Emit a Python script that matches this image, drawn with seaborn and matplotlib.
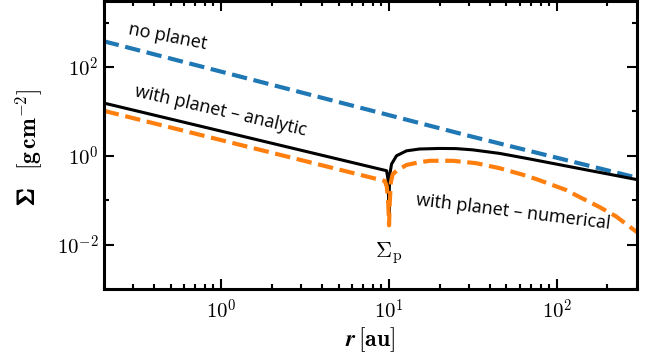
import matplotlib
matplotlib.use("Agg")
import matplotlib.pyplot as plt
import matplotlib.ticker as mticker
import matplotlib.patheffects as pe
import seaborn as sns
import pandas as pd
import numpy as np

# values (r in au, sigma in g cm^-2)
r_noplanet = [0.2, 30.0, 300.0]
sig_noplanet = [380.0, 2.8, 0.32]

r_analytic = [0.2, 9.67, 9.85, 9.95, 10.0, 10.03, 10.08, 10.35, 11.08, 12.7, 15.2,
              20.0, 25.0, 31.4, 45.5, 68.5, 100.0, 150.0, 200.0, 268.0, 300.0]
sig_analytic = [15.4, 0.46, 0.30, 0.10, 0.045, 0.15, 0.36, 0.65, 1.0, 1.29, 1.42,
                1.46, 1.45, 1.36, 1.13, 0.85, 0.645, 0.48, 0.39, 0.315, 0.29]

r_numerical = [0.2, 9.44, 9.7, 9.9, 10.0, 10.1, 10.25, 10.5, 11.1, 12.7, 15.0, 17.5,
               24.0, 33.0, 45.5, 62.0, 75.0, 113.0, 135.0, 178.0, 225.0, 280.0, 300.0]
sig_numerical = [10.3, 0.27, 0.2, 0.08, 0.027, 0.09, 0.25, 0.38, 0.46, 0.62, 0.71, 0.77,
                 0.77, 0.68, 0.525, 0.378, 0.3, 0.17, 0.12, 0.071, 0.043, 0.023, 0.019]

y_major = [1e-2, 1e0, 1e2]
y_minor = [1e-3, 1e-1, 1e1, 1e3]

sns.set_style("ticks")
plt.rcParams["mathtext.fontset"] = "cm"
plt.rcParams["axes.linewidth"] = 2.2
plt.rcParams["axes.edgecolor"] = "black"
plt.rcParams["xtick.color"] = "black"
plt.rcParams["ytick.color"] = "black"
plt.rcParams["text.color"] = "black"
plt.rcParams["axes.labelcolor"] = "black"

fig, ax = plt.subplots(figsize=(6.57, 3.58), dpi=100)
fig.subplots_adjust(left=0.158, right=0.9696, top=0.996, bottom=0.193)

df_np = pd.DataFrame({"r": r_noplanet, "sigma": sig_noplanet})
df_an = pd.DataFrame({"r": r_analytic, "sigma": sig_analytic})
df_nu = pd.DataFrame({"r": r_numerical, "sigma": sig_numerical})

sns.lineplot(data=df_np, x="r", y="sigma", ax=ax, color="#1f77b4", lw=3.0,
             ls="--", estimator=None, sort=False)
sns.lineplot(data=df_an, x="r", y="sigma", ax=ax, color="black", lw=2.2,
             estimator=None, sort=False)
sns.lineplot(data=df_nu, x="r", y="sigma", ax=ax, color="#ff7f0e", lw=3.0,
             ls="--", estimator=None, sort=False)

ax.set_xscale("log")
ax.set_yscale("log")
ax.set_xlim(0.2, 300)
ax.set_ylim(1e-3, 3e3)


def pow10(v, pos):
    return r"$10^{%d}$" % int(round(np.log10(v)))


ax.yaxis.set_major_locator(mticker.FixedLocator(y_major))
ax.yaxis.set_minor_locator(mticker.FixedLocator(y_minor))
ax.yaxis.set_major_formatter(mticker.FuncFormatter(pow10))
ax.yaxis.set_minor_formatter(mticker.NullFormatter())
ax.xaxis.set_major_locator(mticker.LogLocator(base=10))
ax.xaxis.set_minor_locator(mticker.LogLocator(base=10, subs=range(2, 10)))
ax.xaxis.set_major_formatter(mticker.FuncFormatter(pow10))
ax.xaxis.set_minor_formatter(mticker.NullFormatter())

ax.tick_params(which="both", direction="in", top=True, right=True, width=1.5)
ax.tick_params(which="major", length=7.5, labelsize=15)
ax.tick_params(which="minor", length=3.8)
ax.tick_params(axis="x", which="major", pad=7)
ax.tick_params(axis="y", which="major", pad=4)

ax.set_xlabel(r"$\mathbfit{r}\,[\mathbf{au}]$", fontsize=17)
ax.xaxis.set_label_coords(0.5, -0.125)
ax.set_ylabel("")

# y label: bold Sigma drawn separately (cm bold has no greek)
ax.text(-0.145, 0.32, r"$\Sigma$", transform=ax.transAxes, rotation=90,
        fontsize=17, ha="center", va="center",
        path_effects=[pe.withStroke(linewidth=1.0, foreground="black")])
ax.text(-0.14, 0.555, r"$[\mathbf{g\,cm^{-2}}]$", transform=ax.transAxes,
        rotation=90, fontsize=17, ha="center", va="center")

tfont = dict(family="Open Sans", fontsize=13, ha="center", va="center",
             rotation_mode="anchor")
ax.text(0.483, 480, "no planet", rotation=-11, **tfont)
ax.text(0.99, 10.1, "with planet – analytic", rotation=-13, **tfont)
ax.text(54.7, 0.0533, "with planet – numerical", rotation=-7, **tfont)
ax.text(10, 0.0066, r"$\Sigma_{\rm p}$", fontsize=16, ha="center", va="center")

fig.savefig("out.png", dpi=100)
